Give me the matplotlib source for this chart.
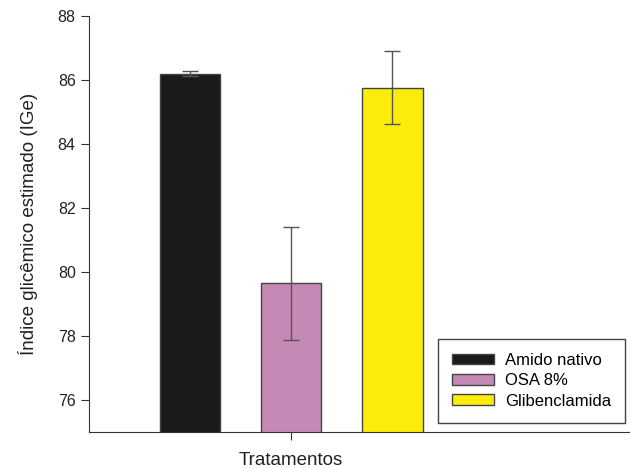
import numpy as np
import matplotlib.pyplot as plt
import matplotlib.transforms as mtransforms

plt.rcParams['font.family'] = ['Liberation Sans', 'DejaVu Sans']

# data
tratamentos = ['Amido nativo', 'OSA 8%', 'Glibenclamida']
ige = [86.2, 79.65, 85.75]
erro = [0.07, 1.77, 1.14]
cores = ['#1a1a1a', '#c48ab5', '#fcec0c']

fig = plt.figure(figsize=(6.3, 4.69), dpi=100)
ax = fig.add_axes([0.141, 0.079, 0.859, 0.887])

x = np.arange(len(tratamentos)) - 1
for xi, v, e, c, lab in zip(x, ige, erro, cores, tratamentos):
    ax.bar(xi, v, width=0.6, color=c, edgecolor='#444444', linewidth=1.0, label=lab)
    ax.errorbar(xi, v, yerr=e, fmt='none', ecolor='#555555', elinewidth=1.0,
                capsize=6, capthick=1.0)

ax.set_ylim(75, 88)
ax.set_xlim(-2.0, 3.35)
ax.set_yticks([76, 78, 80, 82, 84, 86, 88])
ax.set_xticks([0])
ax.set_xticklabels([''])
ax.tick_params(direction='out', length=6, labelsize=11.5, colors='#333333', labelcolor='#222222')
for s in ['top', 'right']:
    ax.spines[s].set_visible(False)
for s in ['left', 'bottom']:
    ax.spines[s].set_color('#333333')
ax.set_ylabel('Índice glicêmico estimado (IGe)', fontsize=13.5, color='#222222', labelpad=14)

# x label centred under the single tick
trans = mtransforms.blended_transform_factory(ax.transData, fig.transFigure)
ax.text(0, 0.0, 'Tratamentos', transform=trans, ha='center', va='bottom',
        fontsize=13.5, color='#222222')

leg = ax.legend(loc='lower right', bbox_to_anchor=(1.0, 0.01), fontsize=12,
                fancybox=False, edgecolor='#444444', framealpha=1,
                handlelength=2.5, handleheight=0.6, borderpad=0.85, labelspacing=0.32,
                handletextpad=0.65, borderaxespad=0.3)
leg.get_frame().set_linewidth(1.0)

fig.savefig('out.png', dpi=100)
